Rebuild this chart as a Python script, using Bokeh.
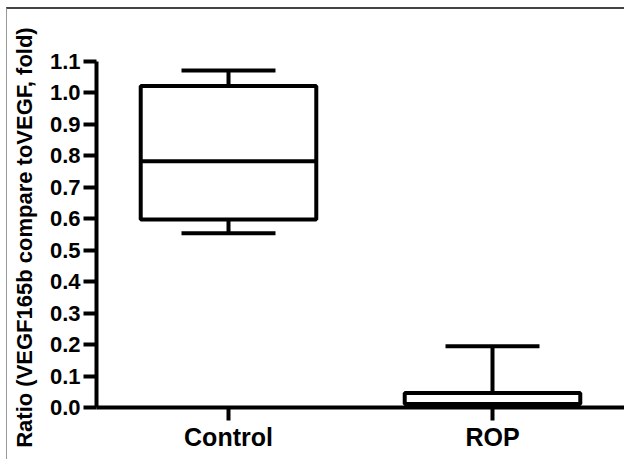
from bokeh.plotting import figure
from bokeh.models import ColumnDataSource, FactorRange, Range1d, FixedTicker, PrintfTickFormatter
from bokeh.transform import dodge
from bokeh.embed import file_html
from bokeh.resources import INLINE

categories = ["Control", "ROP"]
whisker_low = [0.554, 0.0]
box_q1 = [0.598, 0.011]
box_median = [0.783, 0.011]
box_q3 = [1.022, 0.046]
whisker_high = [1.071, 0.195]
y_ticks = [0.0, 0.1, 0.2, 0.3, 0.4, 0.5, 0.6, 0.7, 0.8, 0.9, 1.0, 1.1]
y_label = "Ratio  (VEGF165b compare toVEGF, fold)"

source = ColumnDataSource(dict(cat=categories, lo=whisker_low, q1=box_q1,
                               med=box_median, q3=box_q3, hi=whisker_high))

p = figure(x_range=FactorRange(factors=categories, range_padding=0),
           y_range=Range1d(0, 1.1),
           width=622, height=452, output_backend="svg", toolbar_location=None,
           min_border_left=89, min_border_right=5, min_border_top=52, min_border_bottom=54)

BOX_W = 0.665
CAP_W = 0.356
LW = 4

# whiskers
p.segment(x0="cat", x1="cat", y0="q3", y1="hi", source=source, line_color="black", line_width=LW)
p.segment(x0="cat", x1="cat", y0="lo", y1="q1", source=source, line_color="black", line_width=LW)
# caps
p.segment(x0=dodge("cat", -CAP_W / 2, range=p.x_range), x1=dodge("cat", CAP_W / 2, range=p.x_range),
          y0="hi", y1="hi", source=source, line_color="black", line_width=LW)
p.segment(x0=dodge("cat", -CAP_W / 2, range=p.x_range), x1=dodge("cat", CAP_W / 2, range=p.x_range),
          y0="lo", y1="lo", source=source, line_color="black", line_width=LW)
# boxes
p.vbar(x="cat", bottom="q1", top="q3", width=BOX_W, source=source,
       fill_color="white", line_color="black", line_width=LW)
# medians
p.segment(x0=dodge("cat", -BOX_W / 2, range=p.x_range), x1=dodge("cat", BOX_W / 2, range=p.x_range),
          y0="med", y1="med", source=source, line_color="black", line_width=LW)

p.xgrid.grid_line_color = None
p.ygrid.grid_line_color = None
p.outline_line_color = None

for ax in (p.xaxis, p.yaxis):
    ax.axis_line_width = LW
    ax.axis_line_color = "black"
    ax.major_tick_line_width = LW
    ax.major_tick_line_color = "black"
    ax.minor_tick_line_color = None
    ax.major_tick_in = 0
    ax.major_tick_out = 13
    ax.major_label_text_font = "Liberation Sans"
    ax.major_label_text_font_style = "bold"
    ax.major_label_text_color = "black"

p.yaxis.ticker = FixedTicker(ticks=y_ticks)
p.yaxis.formatter = PrintfTickFormatter(format="%.1f")
p.yaxis.major_label_text_font_size = "22px"
p.yaxis.major_label_standoff = 3
p.yaxis.axis_label = y_label
p.yaxis.axis_label_text_font = "Liberation Sans"
p.yaxis.axis_label_text_font_style = "bold"
p.yaxis.axis_label_text_font_size = "22px"
p.yaxis.axis_label_text_color = "black"
p.yaxis.axis_label_standoff = 10

p.xaxis.major_label_text_font_size = "25px"
p.xaxis.major_label_standoff = 2

p.styles = {"margin-left": "6px", "margin-top": "7px",
            "border-top": "2px solid #444444", "border-left": "1px solid #999999"}

open("out.html", "w").write(file_html(p, INLINE))
